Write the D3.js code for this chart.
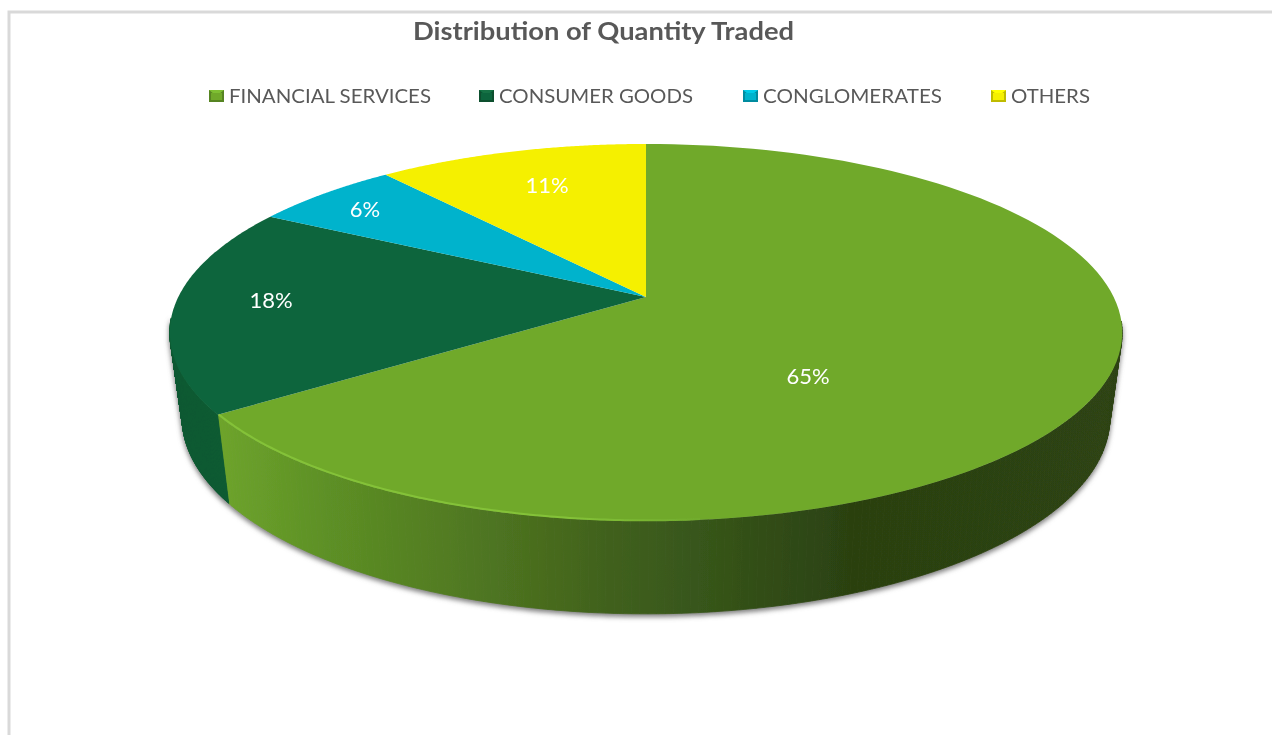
<!DOCTYPE html>
<html><head><meta charset="utf-8">
<script src="https://cdnjs.cloudflare.com/ajax/libs/d3/7.8.5/d3.min.js"></script>
<style>html,body{margin:0;padding:0;background:#fff;overflow:hidden}svg{display:block}text{font-family:Lato,"Noto Sans",sans-serif}</style>
</head><body><svg id="c" width="1272" height="735"></svg>
<script>
// ---- data ----
const categories = ["FINANCIAL SERVICES", "CONSUMER GOODS", "CONGLOMERATES", "OTHERS"];
const shares = [65.2, 17.8, 6, 11];
const labels = ["65%", "18%", "6%", "11%"];
const title = "Distribution of Quantity Traded";
// ---- style / layout ----
const topColors = ["#6fa92c", "#10653c", "#00b3cc", "#f5f000"];
const sideStops = [[0, "#6ea42c"], [0.12, "#5d9025"], [0.312, "#4d7320"], [0.445, "#3f5f1b"], [0.533, "#37561a"], [0.622, "#304b14"], [0.7, "#2b4111"], [1, "#2d4312"]];
const legendMarkX = [209, 479, 743, 991], legendTextX = [229, 499, 763, 1011], legendTextW = [202, 194, 179, 79];
const labelXY = [[808, 376], [271, 300], [365, 209], [547, 185]];

const svg = d3.select("#c"), defs = svg.append("defs");
const mkBlur = (id, s) => defs.append("filter").attr("id", id).attr("x", "-5%").attr("y", "-5%").attr("width", "110%").attr("height", "115%")
  .append("feGaussianBlur").attr("stdDeviation", s);
mkBlur("shadow", 2.4); mkBlur("soft", 0.45); mkBlur("rimBlur", 0.7);

const sg = defs.append("linearGradient").attr("id", "side").attr("gradientUnits", "userSpaceOnUse")
  .attr("x1", 218).attr("x2", 1122).attr("y1", 0).attr("y2", 0);
sideStops.forEach(s => sg.append("stop").attr("offset", s[0]).attr("stop-color", s[1]));
const hg = defs.append("linearGradient").attr("id", "rimHi").attr("gradientUnits", "userSpaceOnUse")
  .attr("x1", 218).attr("x2", 720).attr("y1", 0).attr("y2", 0);
hg.append("stop").attr("offset", 0).attr("stop-color", "#84c238");
hg.append("stop").attr("offset", .7).attr("stop-color", "#84c238");
hg.append("stop").attr("offset", 1).attr("stop-color", "#6fa92c");

// frame
svg.append("path").attr("d", "M9,735V12H1272").attr("fill", "none").attr("stroke", "#d9d9d9").attr("stroke-width", 3);

// perspective projection of the tilted unit disc
const cx = 646, apexY = 297, R = 467.7, k = 0.1883, a = -125.9;
const topPt = (t, r = 1) => {
  const x = r * Math.sin(t), y = r * Math.cos(t), w = 1 + k * y;
  return [cx + R * x / w, (a * y + apexY) / w];
};
const botPt = t => {
  const p = topPt(t);
  return [cx + (p[0] - cx) * 0.974, p[1] * 1.04 + 72];
};
const line = d3.line();
const arcPts = (f, t0, t1, n = 120) => d3.range(0, n + 1).map(i => f(t0 + (t1 - t0) * i / n));

const arcs = d3.pie().sort(null)(shares);
const gChart = svg.append("g").attr("filter", "url(#soft)");

// wall ribbon between two rims, only on the part of the rim that faces the viewer
const wallFrom = 1.7, wallTo = 4.6;
const ribbon = (d, n = 160) => {
  const s = Math.max(d.startAngle, wallFrom), e = Math.min(d.endAngle, wallTo);
  return d3.range(n).map(i => {
    const t0 = s + (e - s) * i / n, t1 = s + (e - s) * (i + 1) / n;
    return line([topPt(t0), topPt(t1), botPt(t1), botPt(t0)]) + "Z";
  });
};

// shadow under the base
svg.insert("g", "g").attr("filter", "url(#shadow)").attr("transform", "translate(0,2.5)")
  .selectAll("path").data(arcs.slice(0, 2).flatMap(d => ribbon(d, 100))).join("path")
  .attr("d", d => d).attr("fill", "#808080").attr("stroke", "#808080").attr("stroke-width", 1.5);

// side walls (only the two front wedges show)
const sideFill = ["url(#side)", "#0e5b34"];
arcs.slice(0, 2).forEach((d, i) => {
  gChart.append("g").selectAll("path").data(ribbon(d)).join("path")
    .attr("d", s => s).attr("fill", sideFill[i]).attr("stroke", sideFill[i]).attr("stroke-width", 0.8);
});
// top wedges
gChart.selectAll("path.top").data(arcs).join("path").attr("class", "top")
  .attr("d", d => line([[cx, apexY]].concat(arcPts(topPt, d.startAngle, d.endAngle))) + "Z")
  .attr("fill", (d, i) => topColors[i]);
// lit front edge of the largest wedge
svg.append("path").attr("d", line(arcPts(t => topPt(t, 0.9975), arcs[0].endAngle, Math.PI * 0.97)))
  .attr("fill", "none").attr("stroke", "url(#rimHi)").attr("stroke-width", 2).attr("filter", "url(#rimBlur)");

// slice labels
svg.selectAll("text.lab").data(labels).join("text").attr("class", "lab")
  .attr("x", (d, i) => labelXY[i][0]).attr("y", (d, i) => labelXY[i][1]).attr("dy", "0.35em")
  .attr("text-anchor", "middle").attr("fill", "#fff").attr("font-size", 22).attr("filter", "url(#soft)").text(d => d);

// title
svg.append("text").attr("x", 413).attr("y", 40)
  .attr("font-size", 25).attr("font-weight", 700).attr("fill", "#595959").attr("filter", "url(#soft)")
  .attr("textLength", 381).attr("lengthAdjust", "spacingAndGlyphs").text(title);

// legend
categories.forEach((c, i) => {
  const m = legendMarkX[i], col = d3.color(topColors[i]);
  const g = svg.append("g").attr("filter", "url(#soft)");
  g.append("rect").attr("x", m).attr("y", 90).attr("width", 15).attr("height", 12).attr("fill", col.darker(0.7));
  g.append("path").attr("d", `M${m},90H${m + 15}L${m + 7.5},96Z`).attr("fill", col.brighter(0.35));
  g.append("rect").attr("x", m + 2).attr("y", 93).attr("width", 11).attr("height", 7).attr("fill", col);
  svg.append("text").attr("x", legendTextX[i]).attr("y", 103).attr("font-size", 20).attr("fill", "#595959")
    .attr("filter", "url(#soft)").attr("textLength", legendTextW[i]).attr("lengthAdjust", "spacingAndGlyphs").text(c);
});
</script></body></html>
